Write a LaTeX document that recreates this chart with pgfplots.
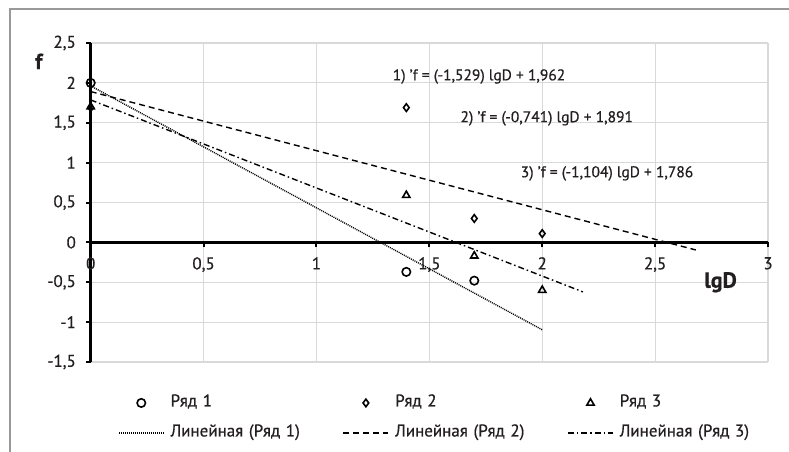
\documentclass[border=0pt]{standalone}
\usepackage{fontspec}
\setmainfont{PT Sans}[FakeBold=0.6]
\usepackage{pgfplots}
\pgfplotsset{compat=1.18}
\definecolor{gridc}{HTML}{D9D9D9}
\definecolor{txt}{HTML}{231F20}
\pgfplotsset{
  markleg/.style={legend image code/.code={\path (0pt,0pt) (51pt,0pt); \draw[##1] plot coordinates {(22.5pt,0pt)};}},
  lineleg/.style={legend image code/.code={\path (0pt,0pt) (51pt,0pt); \draw[##1] (0pt,0pt) -- (45pt,0pt);}},
}
\begin{document}
\fontsize{14pt}{17pt}\selectfont
\begin{tikzpicture}
\path[use as bounding box] (0,0) rectangle (789pt,452pt);
\draw[color=black!40, line width=1.2pt] (10pt,0) -- (10pt,443pt) -- (789pt,443pt);
\begin{axis}[
  at={(90.7pt,90pt)}, anchor=south west,
  scale only axis, width=677.3pt, height=319pt,
  xmin=0, xmax=3, ymin=-1.5, ymax=2.5,
  axis lines=middle,
  axis line style={-, line width=2.5pt, black},
  hide obscured x ticks=false, hide obscured y ticks=false,
  xtick={0,0.5,1,1.5,2,2.5,3},
  ytick={-1.5,-1,-0.5,0,0.5,1,1.5,2,2.5},
  grid=major,
  grid style={gridc, line width=1.2pt},
  major tick length=5pt,
  tick align=outside,
  tick style={black, line width=2pt},
  x tick label style={yshift=-5pt},
  y tick label style={xshift=-5pt},
  /pgf/number format/assume math mode=true,
  /pgf/number format/use comma,
  ticklabel style={font=\fontsize{17pt}{20pt}\selectfont, text=txt},
  clip=false,
  legend cell align=left,
  legend columns=3,
  legend style={at={(0.0403,-0.108)}, anchor=north west, draw=none, fill=none,
    inner sep=0pt, outer sep=0pt, row sep=17pt, column sep=0pt,
    font=\fontsize{17pt}{20pt}\selectfont, text=txt,
    nodes={inner sep=0pt, text width=172pt, align=left, text height=10pt, text depth=3pt}},
]
% legend entries
\addlegendimage{markleg, only marks, mark=o, mark size=4.2pt, line width=1.6pt, black}
\addlegendentry{Ряд 1}
\addlegendimage{markleg, only marks, mark=diamond, mark size=3.8pt, line width=1.6pt, black}
\addlegendentry{Ряд 2}
\addlegendimage{markleg, only marks, mark=triangle, mark size=4.2pt, line width=1.6pt, black}
\addlegendentry{Ряд 3}
\addlegendimage{lineleg, black, line width=1.4pt, dash pattern=on 1pt off 1pt}
\addlegendentry{Линейная (Ряд 1)}
\addlegendimage{lineleg, black, line width=1.4pt, dash pattern=on 6pt off 4pt}
\addlegendentry{Линейная (Ряд 2)}
\addlegendimage{lineleg, black, line width=1.4pt, dash pattern=on 6pt off 3pt on 1.5pt off 3pt}
\addlegendentry{Линейная (Ряд 3)}
% trend lines
\addplot[forget plot, black, line width=1.4pt, dash pattern=on 1pt off 1pt] coordinates {(0,1.962) (2,-1.096)};
\addplot[forget plot, black, line width=1.4pt, dash pattern=on 6pt off 4pt] coordinates {(0,1.891) (2.68,-0.095)};
\addplot[forget plot, black, line width=1.4pt, dash pattern=on 6pt off 3pt on 1.5pt off 3pt] coordinates {(0,1.786) (2.18,-0.621)};
% data
\addplot[forget plot, only marks, mark=diamond, mark size=3.8pt, line width=1.6pt, black, mark options={fill=white}]
  coordinates {(0,1.69) (1.398,1.69) (1.699,0.30) (2,0.11)};
\addplot[forget plot, only marks, mark=triangle, mark size=4.2pt, line width=1.6pt, black, mark options={fill=white}]
  coordinates {(0,1.70) (1.398,0.59) (1.699,-0.17) (2,-0.60)};
\addplot[forget plot, only marks, mark=o, mark size=4.2pt, line width=1.6pt, black, mark options={fill=white}]
  coordinates {(0,2.0) (1.398,-0.37) (1.699,-0.48)};
% labels
\node[font=\bfseries\fontsize{22pt}{26pt}\selectfont, text=txt] at (axis cs:-0.23,2.27) {f};
\node[font=\bfseries\fontsize{22pt}{26pt}\selectfont, text=txt] at (axis cs:2.79,-0.5) {lgD};
\node[text=txt, font=\fontsize{15.5pt}{18pt}\selectfont] at (axis cs:1.72,2.08) {1) 'f = (-1,529) lgD + 1,962};
\node[text=txt, font=\fontsize{15.5pt}{18pt}\selectfont] at (axis cs:2.02,1.555) {2) 'f = (-0,741) lgD + 1,891};
\node[text=txt, font=\fontsize{15.5pt}{18pt}\selectfont] at (axis cs:2.287,0.865) {3) 'f = (-1,104) lgD + 1,786};
\end{axis}
\end{tikzpicture}
\end{document}
